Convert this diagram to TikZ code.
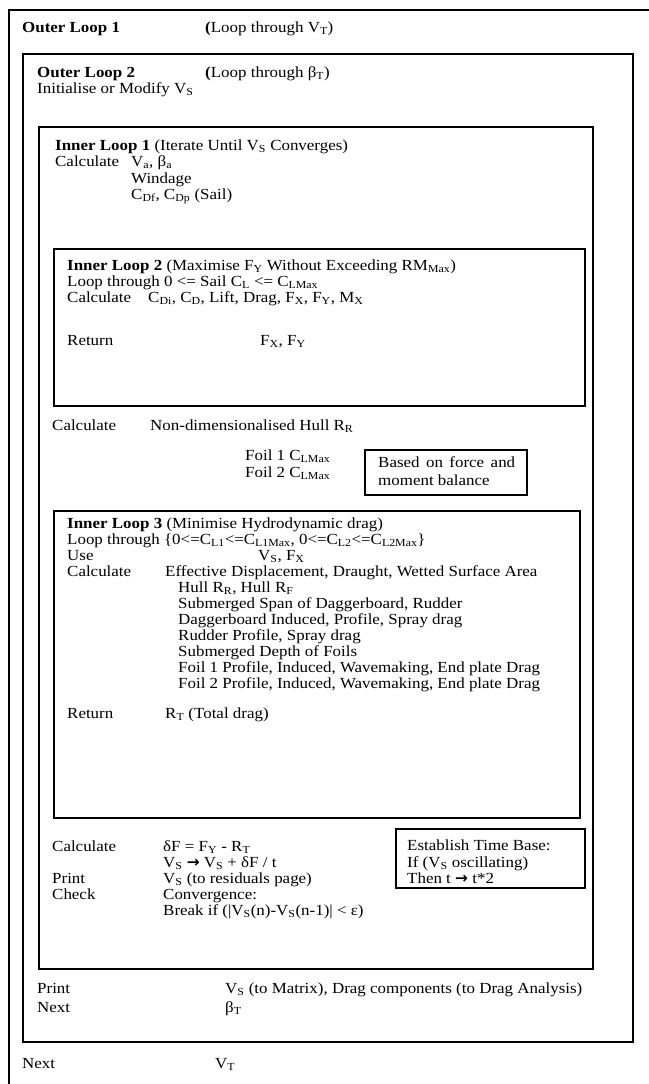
\documentclass[tikz,border=0pt]{standalone}
\usepackage{fontspec}
\setmainfont{Liberation Serif}[FakeStretch=1.1]
\newfontfamily\arrowfont{DejaVu Sans}
\newcommand{\lo}[1]{\textsubscript{#1}}
\newcommand{\rarr}{{\arrowfont\bfseries →}}
\begin{document}
\begin{tikzpicture}[x=1pt,y=-1pt,
  txt/.style={anchor=base west, inner sep=0pt, font=\fontsize{15.4}{16}\selectfont},
  box/.style={draw, line width=1.6pt}]
\useasboundingbox (0,0) rectangle (648,1084);
\fill[white] (0,0) rectangle (648,1084);
% Outer loop 1 (runs off the page)
\draw[box] (9,1090) -- (9,10) -- (655,10);
\node[txt] (ol1) at (22,32) {\textbf{Outer Loop 1}};
\node[txt] (ol1b) at (205,32) {\textbf{(}Loop through V\lo{T})};
% Outer loop 2
\draw[box] (23,54) rectangle (633,1042);
\node[txt] (ol2) at (37,77) {\textbf{Outer Loop 2}};
\node[txt] (ol2b) at (205,77) {\textbf{(}Loop through β\lo{T})};
\node[txt] (init) at (37,93) {Initialise or Modify V\lo{S}};
% Inner loop 1
\draw[box] (39,127) rectangle (593,969);
\node[txt] (il1) at (55,150) {\textbf{Inner Loop 1} (Iterate Until V\lo{S} Converges)};
\node[txt] (c1) at (55,166) {Calculate};
\node[txt] (c1a) at (131,166) {V\lo{a}, β\lo{a}};
\node[txt] (c1b) at (131,183) {Windage};
\node[txt] (c1c) at (131,199) {C\lo{Df}, C\lo{Dp} (Sail)};
% Inner loop 2
\draw[box] (54,249) rectangle (585,406);
\node[txt] (il2) at (67,270) {\textbf{Inner Loop 2} (Maximise F\lo{Y} Without Exceeding RM\lo{Max})};
\node[txt] (l2) at (67,286) {Loop through 0 <= Sail C\lo{L} <= C\lo{LMax}};
\node[txt] (c2) at (67,302) {Calculate};
\node[txt] (c2a) at (148,302) {C\lo{Di}, C\lo{D}, Lift, Drag, F\lo{X}, F\lo{Y}, M\lo{X}};
\node[txt] (r2) at (67,345) {Return};
\node[txt] (r2a) at (260,345) {F\lo{X}, F\lo{Y}};
% Between
\node[txt] (cnd) at (52,430) {Calculate};
\node[txt] (cnda) at (150,430) {Non-dimensionalised Hull R\lo{R}};
\node[txt] (f1) at (245,460) {Foil 1 C\lo{LMax}};
\node[txt] (f2) at (245,477) {Foil 2 C\lo{LMax}};
\draw[box] (365,450) rectangle (527,495);
\node[txt] (bal1) at (378,467) {\makebox[137pt][s]{Based on force and}};
\node[txt] (bal2) at (378,485) {moment balance};
% Inner loop 3
\draw[box] (54,511) rectangle (580,818);
\node[txt] (il3) at (67,528) {\textbf{Inner Loop 3} (Minimise Hydrodynamic drag)};
\node[txt] (l3) at (67,544) {Loop through \{0<=C\lo{L1}<=C\lo{L1Max}, 0<=C\lo{L2}<=C\lo{L2Max}\}};
\node[txt] (u3) at (67,560) {Use};
\node[txt] (u3a) at (258,560) {V\lo{S}, F\lo{X}};
\node[txt] (c3) at (67,576) {Calculate};
\node[txt] (c3a) at (165,576) {Effective Displacement, Draught, Wetted Surface Area};
\node[txt] (c3b) at (178,592) {Hull R\lo{R}, Hull R\lo{F}};
\node[txt] (c3c) at (178,608) {Submerged Span of Daggerboard, Rudder};
\node[txt] (c3d) at (178,624) {Daggerboard Induced, Profile, Spray drag};
\node[txt] (c3e) at (178,640) {Rudder Profile, Spray drag};
\node[txt] (c3f) at (178,656) {Submerged Depth of Foils};
\node[txt] (c3g) at (178,672) {Foil 1 Profile, Induced, Wavemaking, End plate Drag};
\node[txt] (c3h) at (178,688) {Foil 2 Profile, Induced, Wavemaking, End plate Drag};
\node[txt] (r3) at (67,718) {Return};
\node[txt] (r3a) at (165,718) {R\lo{T} (Total drag)};
% Update
\node[txt] (c4) at (52,851) {Calculate};
\node[txt] (c4a) at (163,851) {δF = F\lo{Y} - R\lo{T}};
\node[txt] (c4b) at (163,867) {V\lo{S} \rarr{} V\lo{S} + δF / t};
\node[txt] (p4) at (52,883) {Print};
\node[txt] (p4a) at (163,883) {V\lo{S} (to residuals page)};
\node[txt] (k4) at (52,899) {Check};
\node[txt] (k4a) at (163,899) {Convergence:};
\node[txt] (k4b) at (163,915) {Break if (|V\lo{S}(n)-V\lo{S}(n-1)| < ε)};
\draw[box] (396,829) rectangle (585,888);
\node[txt] (tb1) at (407,850) {Establish Time Base:};
\node[txt] (tb2) at (407,867) {If (V\lo{S} oscillating)};
\node[txt] (tb3) at (407,883) {Then t \rarr{} t*2};
% Outer loop 2 tail
\node[txt] (p5) at (37,993) {Print};
\node[txt] (p5a) at (225,993) {V\lo{S} (to Matrix), Drag components (to Drag Analysis)};
\node[txt] (n5) at (37,1012) {Next};
\node[txt] (n5a) at (225,1012) {β\lo{T}};
% Outer loop 1 tail
\node[txt] (n6) at (22,1068) {Next};
\node[txt] (n6a) at (215,1068) {V\lo{T}};
\end{tikzpicture}
\end{document}
